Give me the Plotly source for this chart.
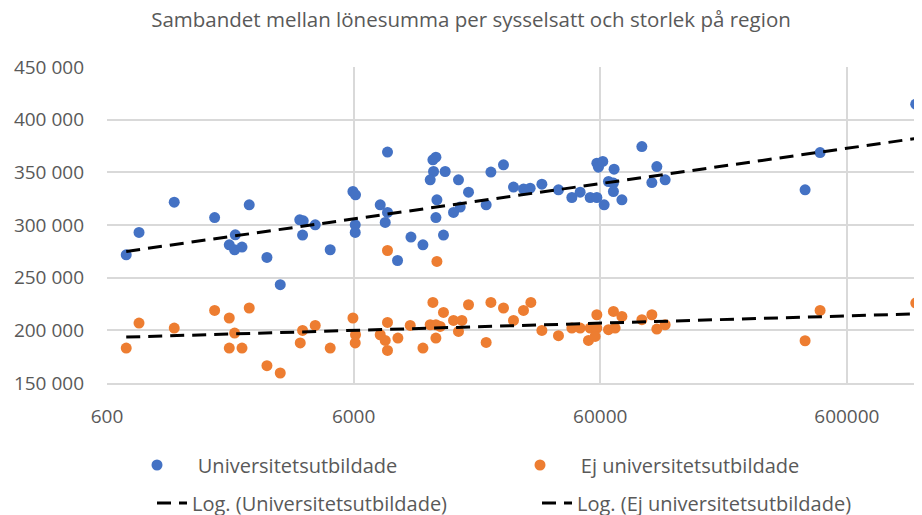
import numpy as np
import plotly.graph_objects as go

# --- Data ---
univ_x = [718, 809, 1124, 1639, 2264, 1879, 1988, 1975, 2116, 2671,
          3024, 3628, 3749, 3725, 4192, 4822, 5962, 6107, 6090, 6090,
          8232, 7691, 8232, 8058, 10248, 11460, 9042, 12576, 12936, 12654,
          12264, 13056, 12936, 14106, 15972, 17538, 16230, 15246, 13884, 20682,
          21618, 24312, 26694, 29304, 31188, 34794, 40620, 46026, 49734, 54618,
          58122, 58122, 58998, 61440, 62220, 64800, 67860, 68280, 67860, 73440,
          88500, 101760, 97140, 109980, 406200, 467280, 1141200]
univ_y = [271700, 292900, 321700, 307100, 319200, 281200, 290700, 276500, 279000, 269200,
          243300, 304900, 304000, 290400, 300200, 276500, 331800, 328700, 300200, 292900,
          369200, 319200, 311900, 302400, 288500, 281200, 266300, 361900, 364400, 350800,
          342900, 323900, 307100, 350800, 342900, 331200, 317000, 311900, 290400, 319200,
          350200, 357100, 336000, 334100, 335000, 338800, 333400, 326100, 331200, 326100,
          326100, 358700, 354900, 360300, 319200, 341300, 339800, 353000, 331800, 323900,
          374500, 355500, 340300, 342900, 333400, 368800, 414700]

ej_x = [718, 809, 1124, 1639, 1879, 1975, 1879, 2116, 2264, 2671,
        3024, 3725, 3645, 4192, 4822, 5962, 6107, 6090, 8232, 7691,
        8058, 8232, 8232, 9072, 10176, 11460, 12576, 13056, 12264, 12936,
        12936, 13884, 13464, 15246, 16488, 15972, 17538, 20682, 21618, 24312,
        26694, 29304, 31392, 34794, 40620, 46026, 49734, 53760, 54618, 58122,
        58122, 57210, 67860, 73440, 64800, 68940, 88500, 97140, 101760, 109980,
        406200, 467280, 1141200]
ej_y = [183200, 206900, 202200, 218900, 211700, 197400, 183200, 183200, 221200, 166400,
        159500, 199900, 188000, 204700, 183200, 211700, 195800, 188000, 275800, 195800,
        190400, 180900, 207500, 192700, 204700, 183200, 226500, 265400, 205300, 205300,
        192700, 217000, 203700, 209400, 209400, 199000, 224300, 188500, 226500, 221200,
        209400, 218900, 226500, 199900, 194900, 202200, 202200, 190400, 202200, 214800,
        202200, 194200, 217900, 213200, 200600, 202200, 210100, 214800, 201200, 205300,
        190100, 218900, 225900]

# Logarithmic trend lines (end points)
trend_x = [718, 1210000]
trend_univ = [274900, 383000]
trend_ej = [193600, 215800]

x_ticks = [600, 6000, 60000, 600000]
x_tick_labels = ["600", "6000", "60000", "600000"]

FONT = "Open Sans"
GREY = "#595959"
PAD = "\u00a0" * 4

# The page body keeps its default 8px margin, so the figure is 8px smaller.
W, H = 914, 507

fig = go.Figure()
fig.add_trace(go.Scatter(x=univ_x, y=univ_y, mode="markers", name=PAD + "Universitetsutbildade",
                         marker=dict(color="#4472C4", size=11), legend="legend"))
fig.add_trace(go.Scatter(x=ej_x, y=ej_y, mode="markers", name=PAD + "Ej universitetsutbildade",
                         marker=dict(color="#ED7D31", size=11), legend="legend"))
fig.add_trace(go.Scatter(x=trend_x, y=trend_univ, mode="lines",
                         name="Log. (Universitetsutbildade)",
                         line=dict(color="black", width=3, dash="14px,8px"), legend="legend2"))
fig.add_trace(go.Scatter(x=trend_x, y=trend_ej, mode="lines",
                         name="Log. (Ej universitetsutbildade)",
                         line=dict(color="black", width=3, dash="14px,8px"), legend="legend2"))

fig.update_layout(
    width=W, height=H,
    margin=dict(l=99, r=0, t=59, b=132, autoexpand=False),
    paper_bgcolor="white", plot_bgcolor="white",
    separators=", ",
    font=dict(family=FONT, size=19, color=GREY),
    title=dict(text="Sambandet mellan lönesumma per sysselsatt och storlek på region",
               xref="container", x=463/W, xanchor="center",
               yref="container", y=1-12/H, yanchor="middle",
               font=dict(family=FONT, size=20.5, color=GREY)),
    xaxis=dict(type="log", range=[np.log10(600), np.log10(1210000)],
               tickvals=x_ticks, ticktext=x_tick_labels, automargin=False,
               showgrid=True, gridcolor="#D9D9D9", gridwidth=1.5,
               showline=True, linecolor="#D9D9D9", linewidth=1.5,
               ticks="", ticklabelstandoff=15, zeroline=False,
               tickfont=dict(family=FONT, size=19, color=GREY)),
    yaxis=dict(range=[150000, 450000], dtick=50000, tickformat=",d", automargin=False,
               showgrid=True, gridcolor="#D9D9D9", gridwidth=1.5,
               showline=False, ticks="", ticklabelstandoff=22, zeroline=False,
               tickfont=dict(family=FONT, size=19, color=GREY)),
    legend=dict(orientation="h", xref="container", yref="container",
                x=129/W, y=1-457/H, xanchor="left", yanchor="middle",
                entrywidth=338, entrywidthmode="pixels",
                font=dict(family=FONT, size=20, color=GREY), bgcolor="rgba(0,0,0,0)"),
    legend2=dict(orientation="h", xref="container", yref="container",
                 x=144/W, y=1-495/H, xanchor="left", yanchor="middle",
                 entrywidth=340, entrywidthmode="pixels",
                 font=dict(family=FONT, size=20, color=GREY), bgcolor="rgba(0,0,0,0)"),
)

fig.write_html("out.html")
